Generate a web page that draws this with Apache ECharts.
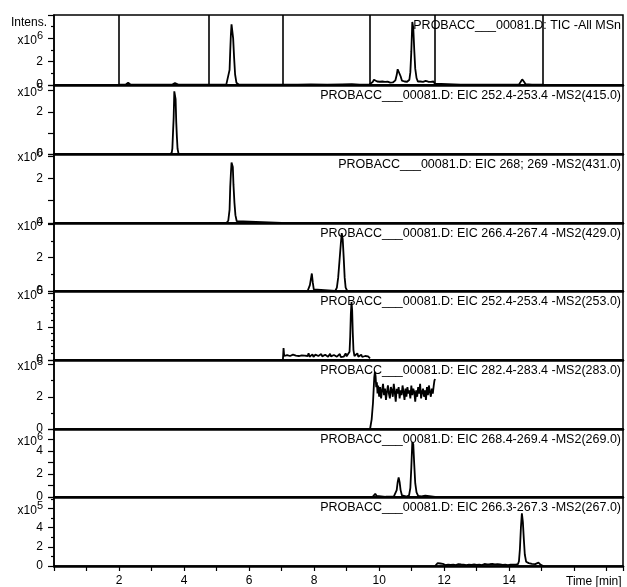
<!DOCTYPE html>
<html>
<head>
<meta charset="utf-8">
<script src="https://cdn.jsdelivr.net/npm/echarts@6/dist/echarts.min.js"></script>
<style>
html,body{margin:0;padding:0;background:#fff;}
#chart{width:627px;height:587px;}
</style>
</head>
<body>
<div id="chart"></div>
<script>
// ---------------- DATA ----------------
const panelTitles = [
  'PROBACC___00081.D: TIC -All MSn',
  'PROBACC___00081.D: EIC 252.4-253.4 -MS2(415.0)',
  'PROBACC___00081.D: EIC 268; 269 -MS2(431.0)',
  'PROBACC___00081.D: EIC 266.4-267.4 -MS2(429.0)',
  'PROBACC___00081.D: EIC 252.4-253.4 -MS2(253.0)',
  'PROBACC___00081.D: EIC 282.4-283.4 -MS2(283.0)',
  'PROBACC___00081.D: EIC 268.4-269.4 -MS2(269.0)',
  'PROBACC___00081.D: EIC 266.3-267.3 -MS2(267.0)'
];
const panelExponents = [6, 5, 6, 4, 5, 5, 6, 5];
const yMaxes = [6.0, 3.27, 3.08, 4.08, 2.08, 4.28, 5.93, 7.2];
const yIntervals = [2, 1, 1, 2, 1, 2, 1, 2];
const yMinorSplits = [2, 0, 0, 2, 5, 2, 0, 2];
const yNumLabels = [[0, 2], [0, 2], [0, 2], [0, 2], [0, 1], [0, 2], [0, 2, 4], [0, 2, 4]];
const yExpPos = [4, 3, 3, 4, 2, 4, 5, 6];
const xTickLabels = [2, 4, 6, 8, 10, 12, 14];
const xAxisTitle = 'Time [min]';
const yAxisTitle = 'Intens.';
const segmentTimes = [2.0, 4.77, 7.02, 9.72, 11.72, 15.03];

// TIC (x10^6)
const ticData = [
  [2.0,0.02],[2.2,0.03],[2.25,0.12],[2.28,0.2],[2.31,0.1],[2.36,0.03],[2.8,0.02],[3.3,0.03],
  [3.64,0.04],[3.68,0.1],[3.72,0.16],[3.76,0.1],[3.82,0.03],[4.3,0.02],[4.77,0.02],
  [4.80,0.04],[5.2,0.03],[5.30,0.05],[5.36,0.2],[5.40,1.3],[5.42,2.9],[5.44,4.3],[5.46,5.2],
  [5.49,5.15],[5.51,4.0],[5.54,2.3],[5.57,0.9],[5.61,0.2],[5.68,0.05],[6.2,0.03],[6.9,0.03],
  [7.02,0.04],[7.5,0.03],[7.9,0.05],[8.4,0.03],[8.86,0.06],[9.16,0.08],[9.4,0.04],[9.7,0.05],
  [9.76,0.1],[9.80,0.25],[9.84,0.45],[9.87,0.6],[9.90,0.45],[9.94,0.3],[9.98,0.22],[10.02,0.28],
  [10.06,0.2],[10.10,0.3],[10.14,0.24],[10.18,0.27],[10.22,0.19],[10.26,0.29],[10.30,0.23],
  [10.34,0.2],[10.38,0.28],[10.42,0.22],[10.46,0.27],[10.50,0.4],[10.54,0.85],[10.57,1.35],
  [10.60,1.5],[10.63,1.3],[10.66,0.75],[10.70,0.38],[10.74,0.25],[10.78,0.3],[10.82,0.22],
  [10.86,0.28],[10.90,0.3],[10.93,0.45],[10.96,1.1],[10.99,2.9],[11.02,5.4],[11.05,4.9],
  [11.08,3.0],[11.11,1.4],[11.15,0.6],[11.19,0.3],[11.23,0.25],[11.27,0.3],[11.31,0.21],
  [11.35,0.27],[11.39,0.23],[11.43,0.35],[11.47,0.22],[11.51,0.28],[11.55,0.2],[11.59,0.26],
  [11.63,0.24],[11.67,0.3],[11.71,0.12],[11.76,0.04],[12.5,0.03],[13.3,0.03],[14.0,0.03],
  [14.3,0.05],[14.35,0.25],[14.4,0.48],[14.45,0.3],[14.5,0.08],[14.7,0.03],[15.05,0.03]
];
// EIC 415 (x10^5)
const eic415 = [
  [2.0,0],[3.55,0],[3.62,0.05],[3.64,0.25],[3.66,1.0],[3.68,1.7],[3.70,2.97],[3.72,2.9],
  [3.74,2.6],[3.76,1.5],[3.78,0.8],[3.80,0.25],[3.83,0.02],[4.0,0],[4.77,0]
];
// EIC 431 (x10^6)
const eic431 = [
  [4.77,0],[5.3,0],[5.36,0.1],[5.40,0.6],[5.42,1.6],[5.44,2.2],[5.46,2.7],[5.48,2.76],
  [5.50,2.5],[5.52,1.7],[5.55,0.9],[5.58,0.35],[5.62,0.08],[5.68,0],[7.0,0]
];
// EIC 429 (x10^4)
const eic429 = [
  [7.0,0],[7.8,0],[7.84,0.1],[7.87,0.35],[7.90,0.3],[7.93,1.05],[7.96,0.5],[7.99,0.1],
  [8.03,0],[8.65,0],[8.70,0.2],[8.74,0.8],[8.78,1.8],[8.82,2.8],[8.85,3.47],[8.88,3.1],
  [8.91,2.0],[8.94,0.8],[8.97,0.2],[9.02,0],[9.7,0]
];
// EIC 253 (x10^5)
const eic253 = [
  [7.04,0],[7.06,0.36],[7.08,0.12],[7.11,0.18],[7.14,0.10],[7.17,0.15],[7.20,0.09],[7.23,0.17],
  [7.26,0.12],[7.29,0.14],[7.32,0.08],[7.35,0.16],[7.38,0.11],[7.41,0.19],[7.44,0.13],[7.47,0.10],
  [7.50,0.17],[7.53,0.12],[7.56,0.15],[7.59,0.08],[7.62,0.14],[7.65,0.18],[7.68,0.11],[7.71,0.13],
  [7.74,0.09],[7.77,0.16],[7.80,0.12],[7.83,0.20],[7.86,0.10],[7.89,0.14],[7.92,0.11],[7.95,0.17],
  [7.98,0.09],[8.01,0.13],[8.04,0.16],[8.07,0.10],[8.10,0.15],[8.13,0.12],[8.16,0.08],[8.19,0.14],
  [8.22,0.18],[8.25,0.11],[8.28,0.13],[8.31,0.09],[8.34,0.16],[8.37,0.12],[8.40,0.15],[8.43,0.10],
  [8.46,0.14],[8.49,0.19],[8.52,0.11],[8.55,0.13],[8.58,0.08],[8.61,0.15],[8.64,0.12],[8.67,0.17],
  [8.70,0.10],[8.73,0.14],[8.76,0.12],[8.79,0.18],[8.82,0.09],[8.85,0.13],[8.88,0.15],[8.91,0.10],
  [8.94,0.14],[8.97,0.20],[9.00,0.11],[9.03,0.06],[9.06,0.12],[9.09,0.25],[9.11,0.7],[9.13,1.4],
  [9.15,1.75],[9.17,1.5],[9.19,0.8],[9.21,0.3],[9.24,0.12],[9.27,0.16],[9.30,0.09],[9.33,0.2],
  [9.36,0.1],[9.39,0.14],[9.42,0.11],[9.45,0.16],[9.48,0.09],[9.51,0.13],[9.54,0.07],[9.57,0.12],
  [9.60,0.1],[9.63,0.08],[9.66,0.11],[9.69,0.07],[9.72,0.05]
];
// EIC 283 (x10^5)
const eic283 = [
  [9.72,0],[9.75,0.1],[9.77,0.6],[9.79,1.1],[9.81,1.6],[9.83,2.4],[9.85,3.2],[9.87,3.55],
  [9.89,3.3],[9.91,2.6],[9.93,2.9],[9.95,2.2],[9.97,2.7],
  [10.00,2.0],[10.03,2.6],[10.06,1.9],[10.09,2.4],[10.12,2.8],[10.15,2.1],[10.18,2.5],[10.21,1.8],
  [10.24,2.3],[10.27,2.7],[10.30,2.2],[10.33,1.9],[10.36,2.6],[10.39,2.4],[10.42,2.0],[10.45,2.8],
  [10.48,2.3],[10.51,1.7],[10.54,2.5],[10.57,2.2],[10.60,2.6],[10.63,1.9],[10.66,2.4],[10.69,2.1],
  [10.72,2.7],[10.75,2.3],[10.78,1.8],[10.81,2.5],[10.84,2.0],[10.87,2.6],[10.90,2.2],[10.93,2.4],
  [10.96,1.9],[10.99,2.7],[11.02,2.1],[11.05,2.5],[11.08,2.3],[11.11,1.7],[11.14,2.4],[11.17,2.0],
  [11.20,2.6],[11.23,2.2],[11.26,2.8],[11.29,1.9],[11.32,2.3],[11.35,2.5],[11.38,2.0],[11.41,2.4],
  [11.44,1.8],[11.47,2.6],[11.50,2.1],[11.53,2.7],[11.56,2.3],[11.59,2.0],[11.62,2.5],[11.65,2.2],
  [11.68,2.7],[11.70,3.0],[11.72,3.1]
];
// EIC 269 (x10^6)
const eic269 = [
  [9.72,0],[9.80,0.02],[9.84,0.1],[9.88,0.28],[9.92,0.1],[9.96,0.03],[10.2,0.02],[10.45,0.03],
  [10.50,0.15],[10.54,0.6],[10.57,1.3],[10.60,1.7],[10.63,1.3],[10.66,0.6],[10.70,0.15],[10.75,0.05],
  [10.85,0.04],[10.92,0.15],[10.96,0.8],[10.99,2.6],[11.02,4.8],[11.05,4.6],[11.08,2.8],[11.11,1.2],
  [11.15,0.4],[11.20,0.1],[11.3,0.05],[11.42,0.12],[11.46,0.04],[11.72,0.02]
];
// EIC 267 (x10^5)
const eic267 = [
  [11.72,0],[11.76,0.15],[11.80,0.30],[11.84,0.2],[11.88,0.26],[11.92,0.12],[11.96,0.22],[12.00,0.18],
  [12.04,0.1],[12.08,0.21],[12.12,0.15],[12.16,0.25],[12.20,0.12],[12.24,0.19],[12.28,0.14],[12.32,0.22],
  [12.36,0.09],[12.40,0.17],[12.44,0.2],[12.48,0.11],[12.52,0.16],[12.56,0.24],[12.60,0.13],[12.64,0.18],
  [12.68,0.1],[12.72,0.2],[12.76,0.15],[12.80,0.27],[12.84,0.12],[12.88,0.19],[12.92,0.16],[12.96,0.22],
  [13.00,0.11],[13.04,0.18],[13.08,0.14],[13.12,0.2],[13.16,0.09],[13.20,0.17],[13.24,0.21],[13.28,0.12],
  [13.32,0.16],[13.36,0.1],[13.40,0.19],[13.44,0.14],[13.48,0.23],[13.52,0.11],[13.56,0.17],[13.60,0.13],
  [13.64,0.2],[13.68,0.1],[13.72,0.16],[13.76,0.22],[13.80,0.12],[13.84,0.18],[13.88,0.14],[13.92,0.21],
  [13.96,0.1],[14.00,0.17],[14.04,0.13],[14.08,0.2],[14.12,0.15],[14.16,0.23],[14.20,0.14],[14.24,0.18],
  [14.27,0.2],[14.30,0.5],[14.33,1.8],[14.36,4.0],[14.39,5.5],[14.42,4.6],[14.45,2.8],[14.48,1.2],
  [14.52,0.45],[14.56,0.25],[14.60,0.3],[14.65,0.15],[14.70,0.22],[14.75,0.12],[14.80,0.2],[14.85,0.28],
  [14.90,0.35],[14.93,0.2],[14.97,0.12],[15.02,0.08],[15.05,0]
];
const panelData = [ticData, eic415, eic431, eic429, eic253, eic283, eic269, eic267];

// ---------------- LAYOUT ----------------
const bounds = [15, 85, 154, 223, 291, 360, 429, 497, 566];
const LEFT = 54, RIGHT = 4;
const FONT = '"Liberation Sans", Arial, sans-serif';
const X_MAX = 17.5;

const grids = [], xAxes = [], yAxes = [], series = [], titles = [];
for (let i = 0; i < 8; i++) {
  const top = bounds[i], h = bounds[i + 1] - bounds[i];
  const last = i === 7;
  grids.push({left: LEFT, right: RIGHT, top: top, height: h, show: true,
    borderColor: '#000', borderWidth: 1.5, backgroundColor: 'transparent'});
  xAxes.push({
    type: 'value', gridIndex: i, min: 0, max: X_MAX, interval: 1,
    axisLine: {show: true, lineStyle: {color: '#000', width: 2.5}},
    axisTick: {show: last, length: 5, lineStyle: {color: '#000', width: 1.2}},
    axisLabel: {show: last, margin: 9, color: '#000', fontSize: 12, fontFamily: FONT,
      formatter: v => xTickLabels.indexOf(v) >= 0 ? String(v) : ''},
    splitLine: {show: false}
  });
  const idx = i;
  yAxes.push({
    type: 'value', gridIndex: i, min: 0, max: yMaxes[i], interval: yIntervals[i],
    axisLine: {show: true, lineStyle: {color: '#000', width: 1.5}},
    axisTick: {show: true, length: 6, lineStyle: {color: '#000', width: 1.2}},
    minorTick: {show: yMinorSplits[i] > 0, splitNumber: yMinorSplits[i] || 1, length: 3,
      lineStyle: {color: '#000', width: 1.2}},
    splitLine: {show: false}, minorSplitLine: {show: false},
    axisLabel: {
      show: true, margin: 11, color: '#000', fontSize: 12, fontFamily: FONT,
      showMinLabel: true, showMaxLabel: true,
      formatter: function (v) {
        if (Math.abs(v - yExpPos[idx]) < 1e-6) return '{a|x10}{s|' + panelExponents[idx] + '}';
        for (const n of yNumLabels[idx]) if (Math.abs(v - n) < 1e-6) return String(n);
        return '';
      },
      rich: {
        a: {fontSize: 12, fontFamily: FONT, color: '#000', verticalAlign: 'bottom'},
        s: {fontSize: 11, fontFamily: FONT, color: '#000', verticalAlign: 'bottom', padding: [0, 0, 5, 0]}
      }
    }
  });
  const s = {
    type: 'line', xAxisIndex: i, yAxisIndex: i, data: panelData[i],
    showSymbol: false, symbol: 'none', animation: false, clip: true,
    lineStyle: {color: '#000', width: 1.8}, z: 3
  };
  if (i === 0) {
    s.markLine = {
      silent: true, symbol: ['none', 'none'], animation: false,
      label: {show: false},
      lineStyle: {color: '#000', width: 1.6, type: 'solid'},
      data: segmentTimes.map(t => ({xAxis: t}))
    };
  }
  series.push(s);
  titles.push({
    text: panelTitles[i], right: 6, top: top + 4, padding: 0,
    textStyle: {fontSize: 12.5, fontWeight: 'normal', color: '#000', fontFamily: FONT}
  });
}

const chart = echarts.init(document.getElementById('chart'), null, {renderer: 'canvas'});
chart.setOption({
  animation: false,
  backgroundColor: '#fff',
  title: titles,
  grid: grids,
  xAxis: xAxes,
  yAxis: yAxes,
  series: series,
  graphic: [
    {type: 'text', x: 47, y: 22.5, z: 10,
      style: {text: yAxisTitle, textAlign: 'right', textVerticalAlign: 'middle',
        font: '12px ' + FONT, fill: '#000'}},
    {type: 'text', x: 566, y: 581.5, z: 10,
      style: {text: xAxisTitle, textAlign: 'left', textVerticalAlign: 'middle',
        font: '12px ' + FONT, fill: '#000'}}
  ]
});
</script>
</body>
</html>
